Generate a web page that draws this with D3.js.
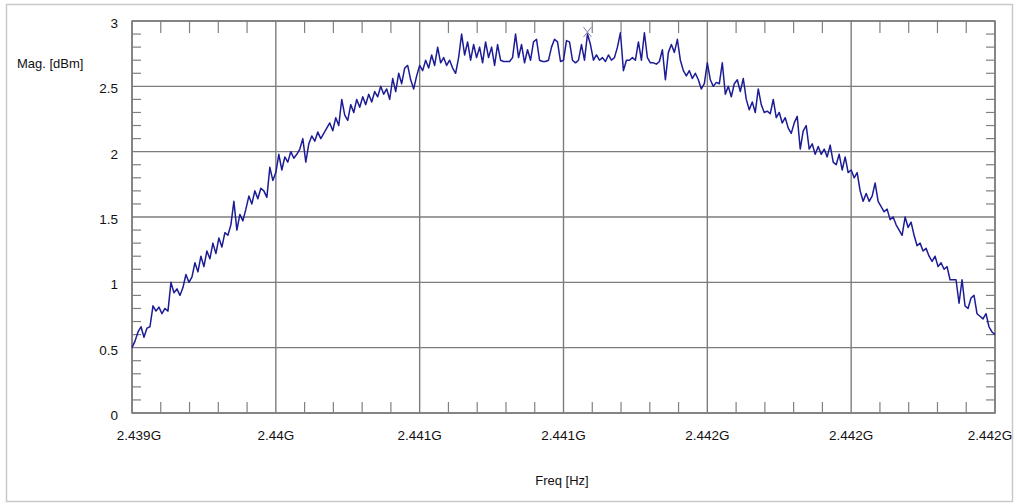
<!DOCTYPE html>
<html>
<head>
<meta charset="utf-8">
<script src="https://cdn.jsdelivr.net/npm/d3@7"></script>
<style>
  html, body { margin: 0; padding: 0; background: #fff; }
  svg { display: block; font-family: "Liberation Sans", Arial, sans-serif; }
</style>
</head>
<body>
<svg id="chart" width="1017" height="504"></svg>
<script>
// ---- data ----
const freqStart = 2.4390e9;
const freqStop = 2.4426e9;
const magnitude = [
  0.50, 0.55, 0.62, 0.66, 0.58, 0.65, 0.66, 0.82, 0.78, 0.81,
  0.76, 0.80, 0.78, 1.00, 0.92, 0.95, 0.90, 0.96, 1.06, 1.00,
  1.04, 1.15, 1.08, 1.20, 1.12, 1.24, 1.18, 1.30, 1.22, 1.34,
  1.27, 1.38, 1.36, 1.44, 1.62, 1.40, 1.52, 1.47, 1.56, 1.66,
  1.60, 1.70, 1.64, 1.72, 1.70, 1.65, 1.88, 1.78, 1.84, 1.98,
  1.86, 1.96, 1.92, 2.00, 1.95, 1.98, 2.02, 2.10, 1.92, 2.06,
  2.12, 2.08, 2.15, 2.10, 2.14, 2.18, 2.22, 2.16, 2.26, 2.20,
  2.40, 2.28, 2.24, 2.36, 2.30, 2.40, 2.34, 2.42, 2.36, 2.44,
  2.38, 2.46, 2.42, 2.50, 2.44, 2.48, 2.40, 2.56, 2.46, 2.60,
  2.52, 2.64, 2.66, 2.55, 2.48, 2.58, 2.66, 2.62, 2.70, 2.64,
  2.74, 2.66, 2.80, 2.68, 2.72, 2.66, 2.70, 2.64, 2.60, 2.72,
  2.90, 2.74, 2.84, 2.70, 2.82, 2.72, 2.80, 2.68, 2.84, 2.72,
  2.80, 2.66, 2.82, 2.70, 2.69, 2.69, 2.69, 2.72, 2.90, 2.72,
  2.82, 2.68, 2.78, 2.70, 2.84, 2.86, 2.70, 2.69, 2.69, 2.70,
  2.80, 2.86, 2.84, 2.69, 2.70, 2.85, 2.84, 2.70, 2.68, 2.70,
  2.82, 2.70, 2.90, 2.82, 2.70, 2.74, 2.70, 2.72, 2.69, 2.74,
  2.70, 2.72, 2.80, 2.91, 2.62, 2.70, 2.70, 2.72, 2.70, 2.84,
  2.70, 2.91, 2.72, 2.68, 2.68, 2.67, 2.69, 2.78, 2.55, 2.76,
  2.82, 2.76, 2.86, 2.70, 2.62, 2.58, 2.62, 2.56, 2.60, 2.55,
  2.48, 2.52, 2.68, 2.55, 2.50, 2.53, 2.52, 2.68, 2.44, 2.50,
  2.42, 2.52, 2.55, 2.46, 2.56, 2.40, 2.32, 2.38, 2.30, 2.48,
  2.36, 2.30, 2.31, 2.29, 2.40, 2.26, 2.30, 2.22, 2.26, 2.18,
  2.14, 2.22, 2.27, 2.02, 2.16, 2.20, 2.02, 2.06, 1.98, 2.04,
  1.98, 2.02, 1.96, 2.05, 1.92, 1.90, 1.98, 1.86, 1.96, 1.84,
  1.86, 1.80, 1.84, 1.70, 1.62, 1.68, 1.62, 1.66, 1.76, 1.62,
  1.58, 1.54, 1.56, 1.48, 1.50, 1.44, 1.40, 1.36, 1.50, 1.42,
  1.46, 1.36, 1.28, 1.30, 1.24, 1.26, 1.20, 1.16, 1.20, 1.12,
  1.15, 1.10, 1.12, 1.02, 1.02, 1.02, 0.84, 1.02, 0.82, 0.80,
  0.88, 0.90, 0.76, 0.74, 0.72, 0.76, 0.66, 0.62, 0.60
];
const markerIndex = 152;
const xTickLabels = ["2.439G", "2.44G", "2.441G", "2.441G", "2.442G", "2.442G", "2.442G"];
const yTickValues = [0, 0.5, 1, 1.5, 2, 2.5, 3];
const yTickLabels = ["0", "0.5", "1", "1.5", "2", "2.5", "3"];
const yLabel = "Mag. [dBm]";
const xLabel = "Freq [Hz]";

// ---- layout ----
const svg = d3.select("#chart");
const L = 132, R = 995, T = 21, B = 413;
const nPts = magnitude.length;
const freqStep = (freqStop - freqStart) / (nPts - 1);
const points = magnitude.map((v, i) => ({ f: freqStart + i * freqStep, v }));

const x = d3.scaleLinear().domain([freqStart, freqStop]).range([L, R]);
const y = d3.scaleLinear().domain([0, 3]).range([B, T]);

const xMajor = d3.range(xTickLabels.length).map(i => freqStart + i * (freqStop - freqStart) / (xTickLabels.length - 1));
const xMinor = [];
for (let i = 0; i < xMajor.length - 1; i++) {
  for (let k = 1; k < 5; k++) xMinor.push(xMajor[i] + k * (xMajor[i + 1] - xMajor[i]) / 5);
}
const yMinor = d3.range(0, 31).map(d => d / 10).filter(d => Math.round(d * 10) % 5 !== 0);

// outer frame
svg.append("rect").attr("x", 6.5).attr("y", 4.5).attr("width", 1006).attr("height", 497)
  .attr("fill", "#fff").attr("stroke", "#c9c9c9").attr("stroke-width", 1.5);

const grid = svg.append("g").attr("stroke", "#7c7c7c").attr("stroke-width", 1.4);
grid.selectAll("line.gx").data(xMajor).join("line")
  .attr("x1", d => x(d)).attr("x2", d => x(d)).attr("y1", T).attr("y2", B);
grid.selectAll("line.gy").data(yTickValues).join("line")
  .attr("x1", L).attr("x2", R).attr("y1", d => y(d)).attr("y2", d => y(d));

// minor ticks
const tk = svg.append("g").attr("stroke", "#808080").attr("stroke-width", 1.2);
xMinor.forEach(f => {
  tk.append("line").attr("x1", x(f)).attr("x2", x(f)).attr("y1", T).attr("y2", T + 12);
  tk.append("line").attr("x1", x(f)).attr("x2", x(f)).attr("y1", B).attr("y2", B - 11);
});
yMinor.forEach(v => {
  tk.append("line").attr("x1", L).attr("x2", L + 9).attr("y1", y(v)).attr("y2", y(v));
  tk.append("line").attr("x1", R).attr("x2", R - 9).attr("y1", y(v)).attr("y2", y(v));
});

// plot frame
svg.append("rect").attr("x", L).attr("y", T).attr("width", R - L).attr("height", B - T)
  .attr("fill", "none").attr("stroke", "#7c7c7c").attr("stroke-width", 1.5);

// data line
const line = d3.line().x(d => x(d.f)).y(d => y(d.v));
svg.append("path").datum(points).attr("d", line)
  .attr("fill", "none").attr("stroke", "#1c1c96").attr("stroke-width", 1.5)
  .attr("stroke-linejoin", "round");

// marker
const mp = points[markerIndex];
const mx = x(mp.f), my = y(mp.v) - 2;
svg.append("path").attr("d", `M${mx - 4},${my - 5}L${mx + 4},${my + 5}M${mx + 4},${my - 5}L${mx - 4},${my + 5}`)
  .attr("stroke", "#7a7aa8").attr("stroke-width", 1).attr("fill", "none");

// y tick labels
svg.append("g").selectAll("text").data(yTickValues).join("text")
  .attr("x", 118).attr("y", d => y(d) + 7)
  .attr("text-anchor", "end").attr("font-size", 13.5).attr("fill", "#111")
  .text((d, i) => yTickLabels[i]);

// x tick labels
svg.append("g").selectAll("text").data(xMajor).join("text")
  .attr("x", (d, i) => i === 0 ? x(d) + 7 : (i === xMajor.length - 1 ? x(d) - 5 : x(d)))
  .attr("y", 440)
  .attr("text-anchor", "middle").attr("font-size", 13.5).attr("fill", "#111")
  .text((d, i) => xTickLabels[i]);

// axis titles
svg.append("text").attr("x", 17).attr("y", 68).attr("font-size", 13).attr("fill", "#111").text(yLabel);
svg.append("text").attr("x", 562).attr("y", 485).attr("text-anchor", "middle")
  .attr("font-size", 13).attr("fill", "#111").text(xLabel);
</script>
</body>
</html>
